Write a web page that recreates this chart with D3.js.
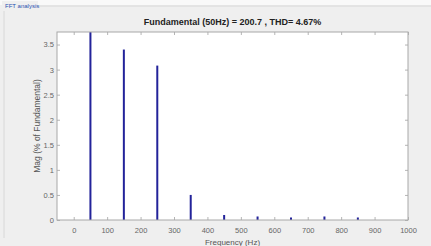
<!DOCTYPE html>
<html>
<head>
<meta charset="utf-8">
<script src="https://cdn.jsdelivr.net/npm/d3@7"></script>
<style>
  html, body { margin: 0; padding: 0; background: #f9f9f9; }
  svg { display: block; font-family: "Liberation Sans Narrow", "Liberation Sans", Arial, sans-serif; }
</style>
</head>
<body>
<svg id="chart" width="431" height="246"></svg>
<script>
const panelTitle = 'FFT analysis';
const chartTitle = 'Fundamental (50Hz) = 200.7 , THD= 4.67%';
const xLabel = 'Frequency (Hz)';
const yLabel = 'Mag (% of Fundamental)';

// harmonic frequencies and magnitudes (% of fundamental)
const frequencies = [50, 150, 250, 350, 450, 550, 650, 750, 850];
const magnitudes = [100, 3.4, 3.08, 0.5, 0.1, 0.07, 0.05, 0.07, 0.05];

const xTicks = [0, 100, 200, 300, 400, 500, 600, 700, 800, 900, 1000];
const yTicks = [0, 0.5, 1, 1.5, 2, 2.5, 3, 3.5];

const svg = d3.select('#chart');
const width = 431;
const height = 246;
const margin = { top: 32, right: 23, bottom: 26, left: 57 };
const plotW = width - margin.left - margin.right;
const plotH = height - margin.top - margin.bottom;

// panel background
svg.append('rect')
  .attr('x', 0).attr('y', 5)
  .attr('width', width).attr('height', height - 5)
  .attr('fill', '#efefef');

svg.append('path')
  .attr('d', `M4,${height - 8} V6 H${width}`)
  .attr('fill', 'none')
  .attr('stroke', '#d8d8d8')
  .attr('stroke-width', 1);

svg.append('rect')
  .attr('x', 2).attr('y', 1)
  .attr('width', 36).attr('height', 10)
  .attr('fill', '#efefef');

svg.append('text')
  .attr('x', 5).attr('y', 8)
  .attr('font-size', 6)
  .attr('fill', '#2a4fb0')
  .text(panelTitle);

const x = d3.scaleLinear().domain([-50, 1000]).range([0, plotW]);
const y = d3.scaleLinear().domain([0, 3.75]).range([plotH, 0]);

const g = svg.append('g')
  .attr('transform', `translate(${margin.left},${margin.top})`);

g.append('rect')
  .attr('width', plotW).attr('height', plotH)
  .attr('fill', '#fff');

// ticks pointing inward on all four sides
const tickColor = '#b5b5b5';
const labelColor = '#666';

const xBottom = g.append('g')
  .attr('transform', `translate(0,${plotH})`)
  .call(d3.axisBottom(x).tickValues(xTicks).tickSizeInner(-3).tickSizeOuter(0).tickPadding(8)
    .tickFormat(d3.format('d')));
const xTop = g.append('g')
  .call(d3.axisTop(x).tickValues(xTicks).tickSizeInner(-3).tickSizeOuter(0).tickFormat(''));
const yLeft = g.append('g')
  .call(d3.axisLeft(y).tickValues(yTicks).tickSizeInner(-3).tickSizeOuter(0).tickPadding(3)
    .tickFormat(d3.format('')));
const yRight = g.append('g')
  .attr('transform', `translate(${plotW},0)`)
  .call(d3.axisRight(y).tickValues(yTicks).tickSizeInner(-3).tickSizeOuter(0).tickFormat(''));

[xBottom, xTop, yLeft, yRight].forEach((axis) => {
  axis.select('.domain').remove();
  axis.selectAll('line').attr('stroke', tickColor);
  axis.selectAll('text')
    .attr('fill', labelColor)
    .attr('font-size', 7.5);
});

// bars (stems), clipped at the top of the plot like the fundamental
g.append('clipPath').attr('id', 'plotClip')
  .append('rect').attr('width', plotW).attr('height', plotH);

g.append('g')
  .attr('clip-path', 'url(#plotClip)')
  .selectAll('rect')
  .data(frequencies.map((f, i) => ({ f, m: magnitudes[i] })))
  .enter()
  .append('rect')
  .attr('x', (d) => x(d.f) - 1)
  .attr('width', 2)
  .attr('y', (d) => y(d.m))
  .attr('height', (d) => plotH - y(d.m))
  .attr('fill', '#23239a');

// frame
g.append('rect')
  .attr('width', plotW).attr('height', plotH)
  .attr('fill', 'none')
  .attr('stroke', '#a8a8a8')
  .attr('stroke-width', 1);

svg.append('text')
  .attr('x', margin.left + plotW / 2)
  .attr('y', 25)
  .attr('text-anchor', 'middle')
  .attr('font-size', 9)
  .attr('font-weight', 'bold')
  .attr('fill', '#222')
  .text(chartTitle);

svg.append('text')
  .attr('x', margin.left + plotW / 2)
  .attr('y', 245)
  .attr('text-anchor', 'middle')
  .attr('font-size', 8)
  .attr('fill', '#555')
  .text(xLabel);

svg.append('text')
  .attr('transform', `translate(40,${margin.top + plotH / 2}) rotate(-90)`)
  .attr('text-anchor', 'middle')
  .attr('font-size', 8.5)
  .attr('fill', '#555')
  .text(yLabel);
</script>
</body>
</html>
